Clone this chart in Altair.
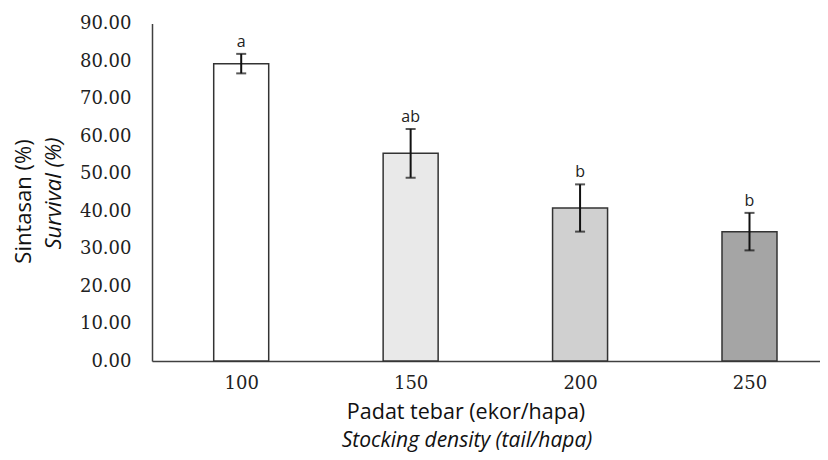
import altair as alt
import pandas as pd

# ---- data ----
density = [100, 150, 200, 250]
survival = [79.3, 55.4, 40.8, 34.5]
err = [2.6, 6.5, 6.3, 5.0]
letters = ["a", "ab", "b", "b"]
fills = ["#ffffff", "#e9e9e9", "#d0d0d0", "#a5a5a5"]
y_ticks = [0, 10, 20, 30, 40, 50, 60, 70, 80, 90]

y_title_1 = "Sintasan (%)"
y_title_2 = "Survival (%)"
x_title_1 = "Padat tebar (ekor/hapa)"
x_title_2 = "Stocking density (tail/hapa)"

df = pd.DataFrame({
    "density": density,
    "survival": survival,
    "lo": [s - e for s, e in zip(survival, err)],
    "hi": [s + e for s, e in zip(survival, err)],
    "letter": letters,
})

W, H = 668, 337.5

xscale = alt.Scale(domain=[75.15, 269.33], nice=False, zero=False)
yscale = alt.Scale(domain=[0, 90], nice=False)

x_axis = alt.Axis(values=density, format="d", ticks=False, grid=False, title=None,
                  domainColor="#404040", domainWidth=1.5, labelOverlap=False,
                  labelFont="DejaVu Serif", labelFontSize=18, labelColor="#222222",
                  labelPadding=13)
y_axis = alt.Axis(values=y_ticks, format=".2f", ticks=False, grid=False, title=None,
                  domainColor="#404040", domainWidth=1.5, labelOverlap=False,
                  labelFont="DejaVu Serif", labelFontSize=18, labelColor="#222222",
                  labelPadding=21)

X = alt.X("density:Q", scale=xscale, axis=x_axis)


def Y(field):
    return alt.Y(field, scale=yscale, axis=y_axis, title=None)


base = alt.Chart(df)

bars = base.mark_bar(size=55, stroke="#333333", strokeWidth=1.5).encode(
    x=X,
    y=Y("survival:Q"),
    color=alt.Color("density:N", scale=alt.Scale(domain=density, range=fills), legend=None),
)

rules = base.mark_rule(color="#111111", strokeWidth=2).encode(
    x=X, y=Y("lo:Q"), y2="hi:Q"
)
cap_hi = base.mark_tick(color="#111111", size=10, thickness=2, orient="horizontal").encode(
    x=X, y=Y("hi:Q")
)
cap_lo = base.mark_tick(color="#111111", size=10, thickness=2, orient="horizontal").encode(
    x=X, y=Y("lo:Q")
)
labels = base.mark_text(font="Open Sans", fontSize=16, color="#222222",
                        baseline="bottom", dy=-4).encode(
    x=X, y=Y("hi:Q"), text="letter:N"
)

one = pd.DataFrame({"k": [0]})


def title_text(txt, x, y, angle=0, italic=False, size=22):
    kw = dict(font="Open Sans", fontSize=size, color="#111111", align="center",
              baseline="middle", text=txt)
    if angle:
        kw["angle"] = angle
    if italic:
        kw["fontStyle"] = "italic"
    return alt.Chart(one).mark_text(**kw).encode(x=alt.value(x), y=alt.value(y))


t1 = title_text(y_title_1, -128, 178, angle=270)
t2 = title_text(y_title_2, -98, 170, angle=270, italic=True)
t3 = title_text(x_title_1, 314, 389.5, size=21.5)
t4 = title_text(x_title_2, 315, 417, italic=True, size=21)

chart = alt.layer(bars, rules, cap_hi, cap_lo, labels, t1, t2, t3, t4).properties(
    width=W, height=H,
    autosize=alt.AutoSizeParams(type="none"),
    padding={"left": 144, "top": 15.5, "right": 0, "bottom": 91},
).configure_view(stroke=None)

chart.save("out.html", embed_options={"renderer": "svg", "actions": False})
